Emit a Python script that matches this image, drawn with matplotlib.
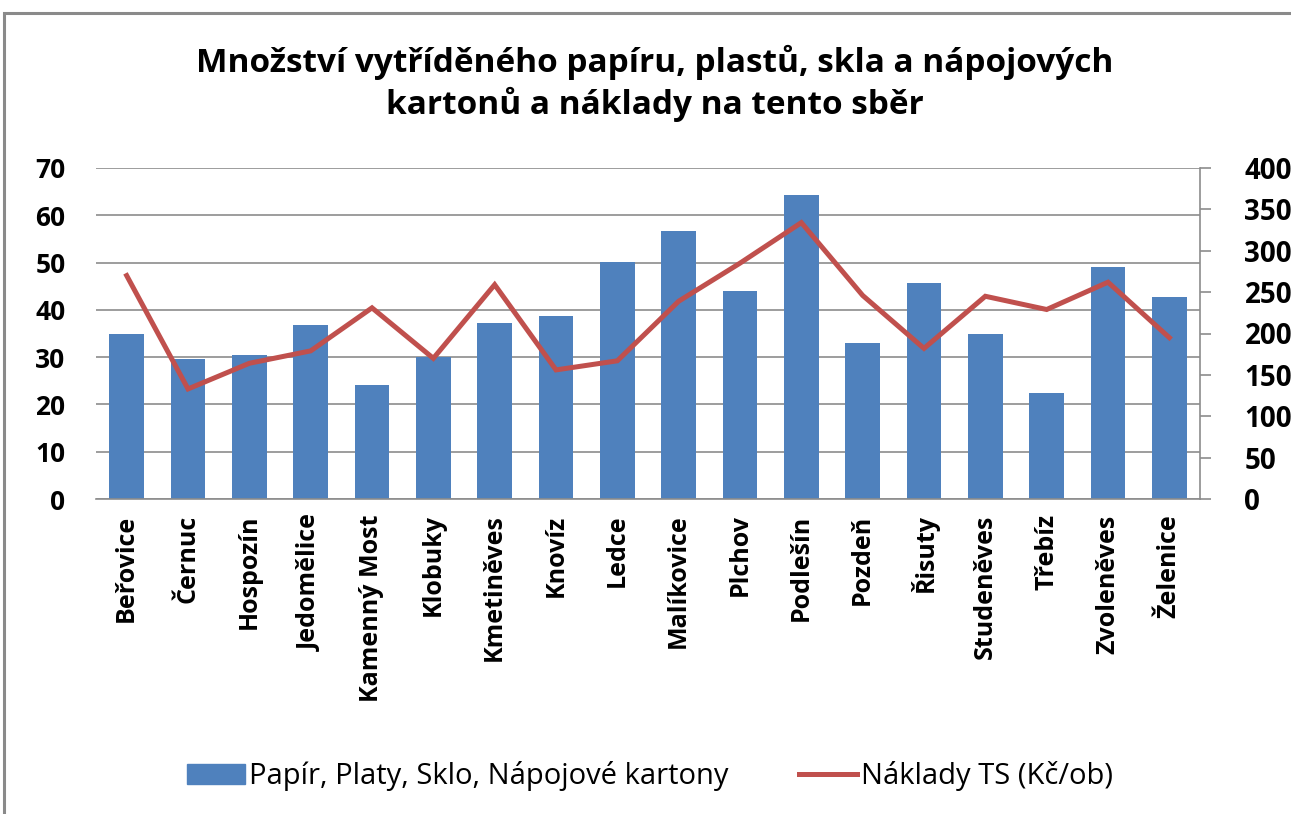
import matplotlib
matplotlib.use("Agg")
import matplotlib.pyplot as plt
from matplotlib.patches import Rectangle, Patch
from matplotlib.lines import Line2D
import numpy as np

categories = ["Beřovice", "Černuc", "Hospozín", "Jedomělice", "Kamenný Most", "Klobuky",
              "Kmetiněves", "Knovíz", "Ledce", "Malíkovice", "Plchov", "Podlešín",
              "Pozdeň", "Řisuty", "Studeněves", "Třebíz", "Zvoleněves", "Želenice"]
tonnage = [34.9, 29.6, 30.5, 36.9, 24.2, 30.1, 37.2, 38.6, 50.1, 56.7, 43.9, 64.2,
           33.0, 45.6, 34.9, 22.5, 49.0, 42.8]
costs = [270, 133, 164, 179, 231, 170, 259, 156, 167, 239, 285, 334,
         246, 182, 245, 229, 262, 195]
left_ticks = [0, 10, 20, 30, 40, 50, 60, 70]
right_ticks = [0, 50, 100, 150, 200, 250, 300, 350, 400]

bar_label = "Papír, Platy, Sklo, Nápojové kartony"
line_label = "Náklady TS (Kč/ob)"
title = "Množství vytříděného papíru, plastů, skla a nápojových\nkartonů a náklady na tento sběr"

BAR = "#4F81BD"
LINE = "#C0504D"
GRID = "#8C8C8C"

W, H = 1291, 814
fig = plt.figure(figsize=(W / 100, H / 100), dpi=100)
main = ["Open Sans", "Lato", "DejaVu Sans"]

# chart border
fig.patches.append(Rectangle((4 / W, -0.2), 2.0, 1 - 13 / H + 0.2, transform=fig.transFigure,
                             fill=False, edgecolor="#8A8A8A", lw=2.2, zorder=0))

ax = fig.add_axes([96 / W, 1 - 499 / H, (1200 - 96) / W, (499 - 168) / H])
x = np.arange(len(categories))
ax.bar(x, tonnage, width=0.56, color=BAR, zorder=2)
ax.set_xlim(-0.5, len(categories) - 0.5)
ax.set_ylim(0, 70)
ax.set_yticks(left_ticks)
ax.set_yticklabels([str(t) for t in left_ticks], family=main, fontweight="bold", fontsize=19)
ax.tick_params(axis="y", length=0, pad=22)
ax.yaxis.grid(True, color=GRID, lw=1.2, zorder=0)
ax.set_axisbelow(True)
for s in ["left", "top", "right"]:
    ax.spines[s].set_visible(False)
ax.spines["bottom"].set_color(GRID)
ax.spines["bottom"].set_linewidth(1.2)
ax.set_xticks(x)
ax.set_xticklabels(categories, rotation=90, family=main, fontweight="bold", fontsize=18,
                   va="top", ha="center")
ax.tick_params(axis="x", length=0, pad=11)

ax2 = ax.twinx()
ax2.plot(x, costs, color=LINE, lw=3.6, zorder=3, solid_joinstyle="miter")
ax2.set_ylim(0, 400)
ax2.set_yticks(right_ticks)
ax2.set_yticklabels([str(t) for t in right_ticks], family=main, fontweight="bold", fontsize=20)
ax2.tick_params(axis="y", direction="out", length=8, width=1.2, color=GRID, pad=24)
for s in ["left", "top", "bottom"]:
    ax2.spines[s].set_visible(False)
ax2.spines["right"].set_color(GRID)
ax2.spines["right"].set_linewidth(1.2)

fig.text(655 / W, 1 - 83 / H, title, ha="center", va="center", family=main,
         fontweight="bold", fontsize=24, linespacing=1.25)

handles = [Patch(facecolor=BAR, edgecolor=BAR), Line2D([], [], color=LINE, lw=3.6)]
fig.legend(handles, [bar_label, line_label], loc="center", bbox_to_anchor=(650 / W, 1 - 776 / H),
           ncol=2, frameon=False, prop={"family": main, "size": 21}, handlelength=2.0,
           handleheight=0.7, handletextpad=0.15, columnspacing=2.4)

fig.savefig("out.png", dpi=100)
